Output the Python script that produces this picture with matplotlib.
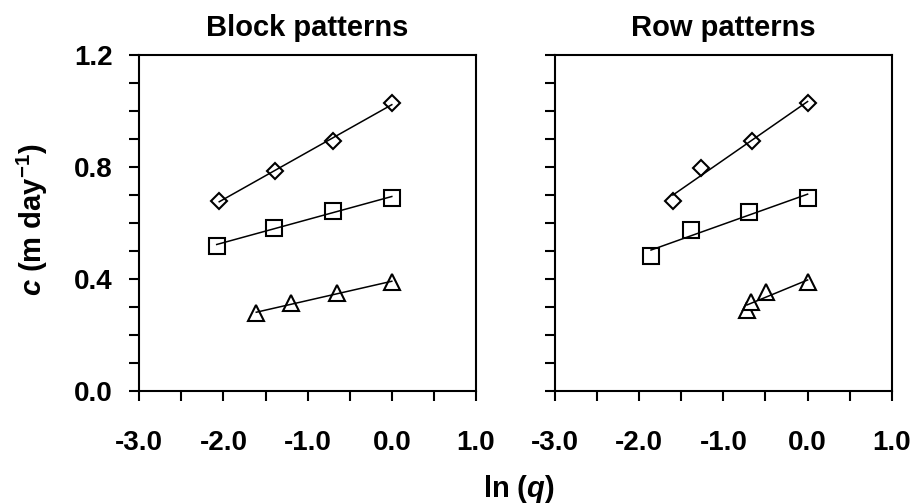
import numpy as np
import matplotlib
matplotlib.use("Agg")
import matplotlib.pyplot as plt
from matplotlib.ticker import MultipleLocator, FormatStrFormatter

plt.rcParams['font.family'] = ['Liberation Sans', 'DejaVu Sans']
plt.rcParams['font.weight'] = 'bold'
plt.rcParams['axes.unicode_minus'] = False
plt.rcParams['mathtext.fontset'] = 'custom'
plt.rcParams['mathtext.rm'] = 'Liberation Sans:bold'
plt.rcParams['mathtext.it'] = 'Liberation Sans:italic:bold'
plt.rcParams['mathtext.bf'] = 'Liberation Sans:bold'

# ln(q) and c values
# block patterns
block_diamond_x = [-2.05, -1.39, -0.70, 0.0]
block_diamond_y = [0.680, 0.787, 0.893, 1.030]
block_square_x = [-2.08, -1.40, -0.70, 0.0]
block_square_y = [0.519, 0.583, 0.642, 0.690]
block_tri_x = [-1.61, -1.20, -0.65, 0.0]
block_tri_y = [0.278, 0.313, 0.349, 0.390]

# row patterns
row_diamond_x = [-1.60, -1.27, -0.66, 0.0]
row_diamond_y = [0.680, 0.795, 0.893, 1.030]
row_square_x = [-1.86, -1.39, -0.70, 0.0]
row_square_y = [0.483, 0.575, 0.640, 0.690]
row_tri_x = [-0.72, -0.67, -0.49, 0.0]
row_tri_y = [0.289, 0.319, 0.355, 0.390]

titles = ['Block patterns', 'Row patterns']

fig = plt.figure(figsize=(9.15, 5.04), dpi=100)
ax1 = fig.add_axes([0.1522, 0.2242, 0.368, 0.6667])
ax2 = fig.add_axes([0.6066, 0.2242, 0.368, 0.6667])


def draw_series(ax, x, y, marker, ms):
    x = np.array(x)
    y = np.array(y)
    ax.plot(x, y, linestyle='none', marker=marker, ms=ms, mfc='white',
            mec='black', mew=1.5, zorder=2, clip_on=False)
    k, b = np.polyfit(x, y, 1)
    xs = np.array([x.min(), x.max()])
    ax.plot(xs, k * xs + b, color='black', lw=1.1, zorder=3)


series = [
    (ax1, [(block_diamond_x, block_diamond_y, 'D', 8.3),
           (block_square_x, block_square_y, 's', 11),
           (block_tri_x, block_tri_y, '^', 11)]),
    (ax2, [(row_diamond_x, row_diamond_y, 'D', 8.3),
           (row_square_x, row_square_y, 's', 11),
           (row_tri_x, row_tri_y, '^', 11)]),
]

for i, (ax, items) in enumerate(series):
    for x, y, m, ms in items:
        draw_series(ax, x, y, m, ms)
    ax.set_xlim(-3, 1)
    ax.set_ylim(0, 1.2)
    ax.xaxis.set_major_locator(MultipleLocator(1.0))
    ax.xaxis.set_minor_locator(MultipleLocator(0.5))
    ax.yaxis.set_major_locator(MultipleLocator(0.4))
    ax.yaxis.set_minor_locator(MultipleLocator(0.1))
    ax.xaxis.set_major_formatter(FormatStrFormatter('%.1f'))
    ax.yaxis.set_major_formatter(FormatStrFormatter('%.1f'))
    ax.tick_params(which='both', direction='out', length=7, width=1.5,
                   top=False, right=False)
    ax.tick_params(axis='x', which='major', labelsize=20, pad=21)
    ax.tick_params(axis='y', which='major', labelsize=20, pad=12)
    for s in ax.spines.values():
        s.set_linewidth(1.5)
    ax.set_title(titles[i], fontsize=21, fontweight='bold', pad=14)
    if i == 1:
        ax.tick_params(axis='y', labelleft=False)

fig.text(0.035, 0.565, r'$\mathit{c}$ (m day$^{-1}$)', rotation=90,
         fontsize=21, fontweight='bold', ha='center', va='center')
fig.text(0.567, 0.03, r'ln ($\mathit{q}$)', fontsize=21, fontweight='bold',
         ha='center', va='center')

fig.savefig('out.png', dpi=100)
